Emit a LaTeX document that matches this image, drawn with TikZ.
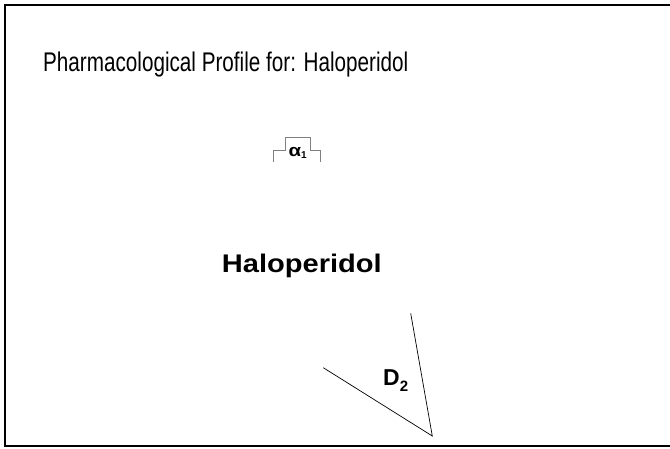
\documentclass[tikz,border=0pt]{standalone}
\usepackage{fontspec}
\usepackage{graphicx}
\setmainfont{Liberation Sans}
\begin{document}
\begin{tikzpicture}[x=1pt,y=-1pt,
  frameline/.style={line width=2pt,black},
  thinline/.style={line width=0.7pt,black},
  greyline/.style={line width=0.8pt,gray},
  txt/.style={inner sep=0pt,anchor=base west}]
\useasboundingbox (0,0) rectangle (670,448);
\draw[frameline] (680,5) -- (5,5) -- (5,446) -- (680,446);
\node[txt,font=\fontsize{27}{30}\selectfont] (title) at (43,71.7) {\scalebox{0.766}[1]{Pharmacological Profile for: Haloperidol}};
\node[txt,font=\bfseries\fontsize{25.5}{28}\selectfont] (drug) at (221.7,272.5) {\scalebox{1.14}[1]{Haloperidol}};
\coordinate (a1) at (273.3,161.7);
\coordinate (a2) at (320,161.7);
\draw[greyline] (a1) |- (285,150.3) |- (310,137.5) |- (320,150.3) -- (a2);
\node[txt,font=\bfseries\fontsize{17}{19}\selectfont] (alpha) at (288.5,156) {\scalebox{1.2}[1]{α}\raisebox{-2.3pt}{\fontsize{10}{11}\selectfont 1}};
\coordinate (apex) at (432.3,436);
\coordinate (e1) at (410.7,313.3);
\coordinate (e2) at (323.3,367.7);
\draw[thinline] (e1) -- (apex) -- (e2);
\node[txt,font=\bfseries\fontsize{23}{26}\selectfont] (d2) at (383,385) {D\raisebox{-6.7pt}{\fontsize{15}{17}\selectfont 2}};
\end{tikzpicture}
\end{document}
